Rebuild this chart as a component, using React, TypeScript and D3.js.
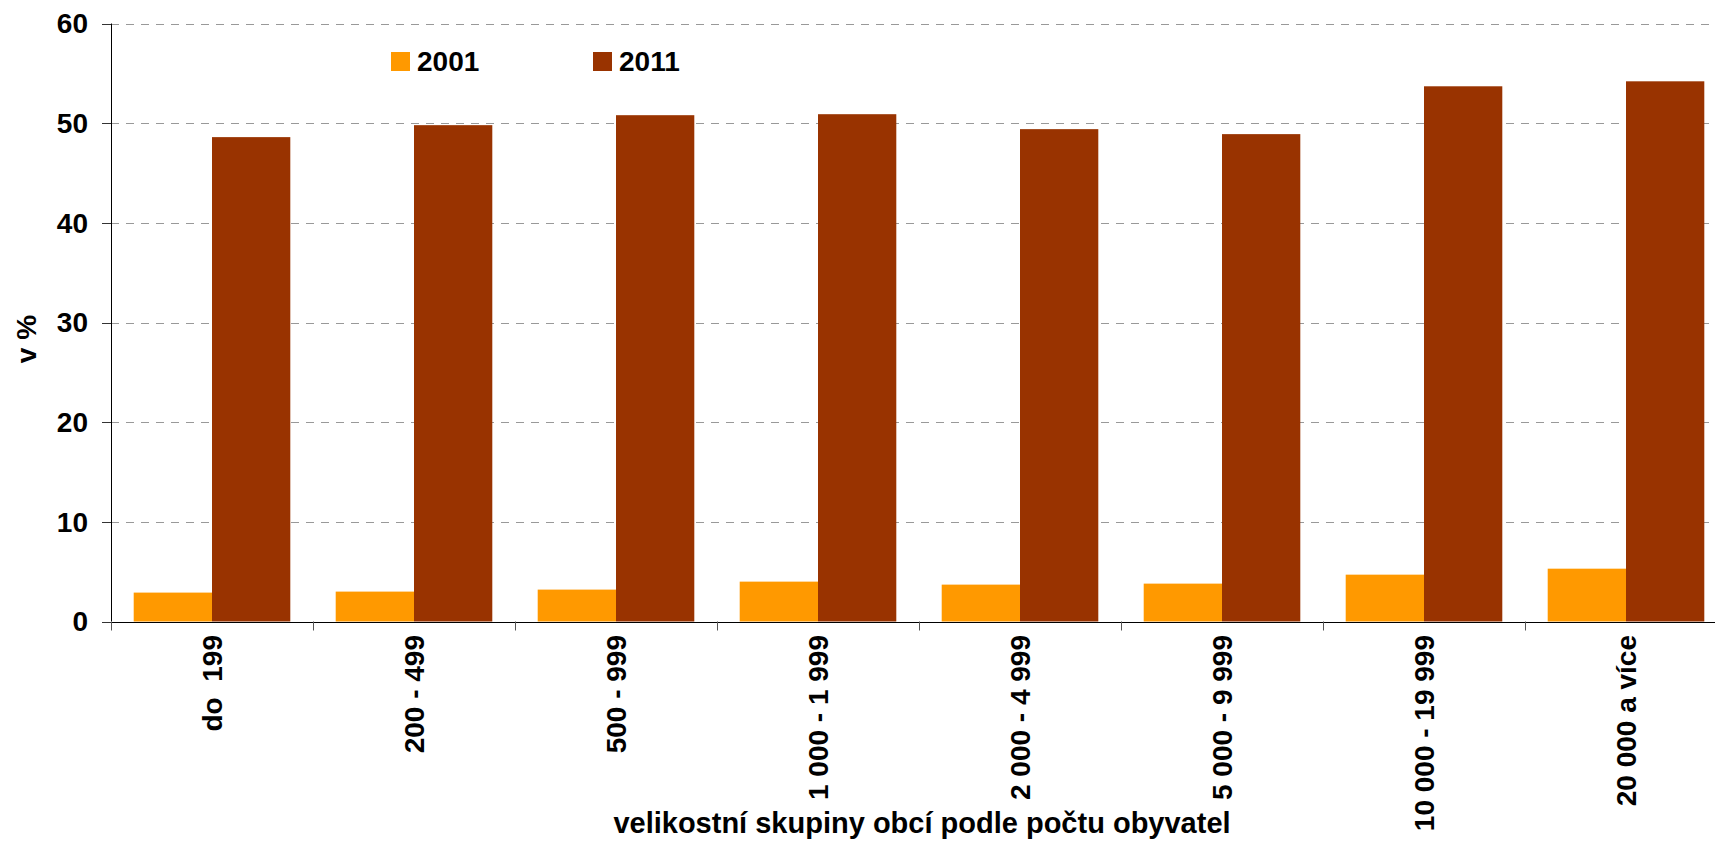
import React from "react";
import * as d3 from "d3";

const categories = ["do  199", "200 - 499", "500 - 999", "1 000 - 1 999", "2 000 - 4 999", "5 000 - 9 999", "10 000 - 19 999", "20 000 a více"];
const series = ["2001", "2011"];
const values2001 = [2.9, 3.0, 3.2, 4.0, 3.7, 3.8, 4.7, 5.3];
const values2011 = [48.6, 49.8, 50.8, 50.9, 49.4, 48.9, 53.7, 54.2];
const yTicks = [0, 10, 20, 30, 40, 50, 60];
const colors = ["#FF9900", "#993300"];

const W = 1715;
const H = 846;
const FONT = "'Liberation Sans', Arial, Helvetica, sans-serif";

export default function App() {
  const x0 = d3.scaleBand<string>().domain(categories).range([111, 111 + 8 * 202]).paddingInner(0).paddingOuter(0);
  const inner = d3.scaleBand<string>().domain(series).range([22.7, 202 - 22.7]);
  const y = d3.scaleLinear().domain([0, 60]).range([621.5, 23.5]);
  const data = [values2001, values2011];

  return (
    <svg width={W} height={H} style={{ position: "absolute", left: 0, top: 0, background: "#fff" }} fontFamily={FONT} fontWeight="bold">
      {/* gridlines */}
      {yTicks.filter(t => t > 0).map(t => (
        <line key={t} x1={111} x2={W} y1={Math.round(y(t)) + 0.5} y2={Math.round(y(t)) + 0.5} stroke="#999" strokeWidth={1} strokeDasharray="8,7" />
      ))}
      {/* bars */}
      {categories.map((c, i) => (
        <g key={c} transform={`translate(${x0(c)},0)`}>
          {series.map((s, j) => (
            <rect key={s} x={inner(s)} y={y(data[j][i])} width={inner.bandwidth()} height={y(0) - y(data[j][i])} fill={colors[j]} />
          ))}
        </g>
      ))}
      {/* y axis */}
      <line x1={111.5} x2={111.5} y1={y(60)} y2={y(0)} stroke="#000" strokeWidth={1} />
      {yTicks.map(t => (
        <g key={t}>
          <line x1={102} x2={111} y1={Math.round(y(t)) + 0.5} y2={Math.round(y(t)) + 0.5} stroke="#333" />
          <text x={88} y={y(t)} dy="0.35em" textAnchor="end" fontSize={28}>{t}</text>
        </g>
      ))}
      {/* x axis */}
      <line x1={111} x2={W} y1={Math.round(y(0)) + 0.5} y2={Math.round(y(0)) + 0.5} stroke="#000" strokeWidth={1} />
      {categories.map((c, i) => (
        <line key={c} x1={Math.round(x0(c)!) + 0.5} x2={Math.round(x0(c)!) + 0.5} y1={y(0)} y2={y(0) + 9} stroke="#555" />
      ))}
      {categories.map(c => {
        const cx = x0(c)! + x0.bandwidth() / 2;
        return (
          <text key={c} transform={`translate(${cx},635) rotate(-90)`} dy="0.35em" textAnchor="end" fontSize={28} style={{ whiteSpace: "pre" }}>{c}</text>
        );
      })}
      {/* axis titles */}
      <text x={922} y={833} textAnchor="middle" fontSize={29}>velikostní skupiny obcí podle počtu obyvatel</text>
      <text transform="translate(36,339) rotate(-90)" textAnchor="middle" fontSize={28}>v %</text>
      {/* legend */}
      {series.map((s, j) => (
        <g key={s} transform={`translate(${[391, 593][j]},52)`}>
          <rect x={0} y={0} width={19} height={19} fill={colors[j]} />
          <text x={26} y={19} fontSize={28}>{s}</text>
        </g>
      ))}
    </svg>
  );
}
